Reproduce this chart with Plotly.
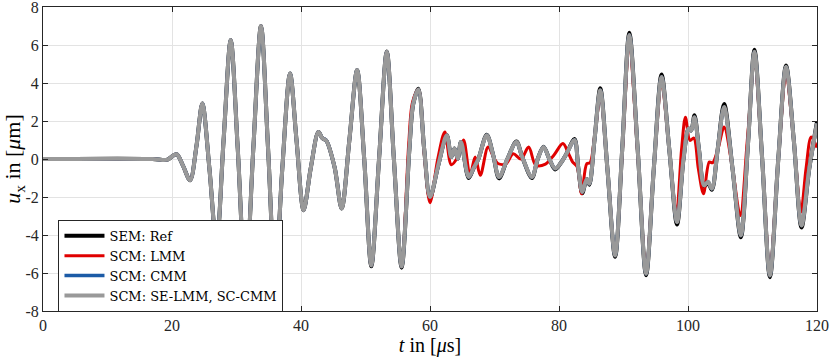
import plotly.graph_objects as go

# time axis in microseconds, displacement in micrometres
t_ref = [0, 17, 18.5, 19.3, 20.7, 21.7, 22.8, 23.8, 24.7, 25.8, 26.9, 28.0, 29.1, 30.2,
         31.4, 32.6, 33.8, 34.9, 36.0, 37.1, 38.3, 39.3, 40.4, 41.5, 42.7, 43.3, 43.9,
         45.2, 46.3, 47.5, 48.7, 49.8, 50.9, 52.1, 53.3, 54.4, 55.6, 56.8, 57.4, 58.2,
         59.1, 60.0, 61.3, 62.6, 63.3, 63.8, 64.3, 64.8, 66.0, 66.8, 67.5, 68.8, 69.8,
         70.7, 72.0, 73.4, 74.3, 75.8, 76.7, 77.6, 78.5, 79.4, 80.3, 81.2, 82.4, 83.0,
         83.6, 84.3, 84.7, 85.5, 86.4, 87.5, 88.7, 89.8, 90.9, 92.2, 93.5, 94.7, 95.9,
         97.1, 98.3, 99.3, 100.1, 100.5, 101.0, 101.7, 102.5, 103.1, 103.7, 104.6, 105.6,
         106.9, 108.2, 109.3, 110.3, 111.5, 112.7, 114.0, 115.2, 116.4, 117.6, 118.8, 120]

u_ref = [0, 0, -0.05, -0.03, 0.25, -0.35, -1.12, 0.7, 2.92, -0.5, -4.5, 1.0, 6.26, 0.5,
         -6.5, 0.5, 7.0, 0.5, -6.3, -0.5, 4.5, 1.0, -2.7, -0.5, 1.42, 1.1, 0.98,
         -0.42, -2.6, 1.0, 4.68, 0.0, -5.65, 0.0, 5.66, 0.0, -5.72, 0.5, 2.9, 3.7,
         0.5, -2.05, -0.3, 1.25, 0.1, 0.55, 0.02, 0.9, -1.0, -0.45, 0.0, 1.28, 0.2,
         -1.02, 0.0, 0.92, 0.1, -1.0, 0.0, 0.65, 0.0, -0.55, -0.2, 0.3, 1.05, -0.5,
         -1.8, -1.05, -1.35, 1.0, 3.72, -0.5, -5.15, 0.5, 6.65, 0.5, -6.12, -0.5, 4.45,
         0.5, -3.45, 0.0, 1.6, 1.5, 2.3, 0.5, -1.45, -1.25, -1.62, 0.5, 2.9,
         -0.5, -4.12, 0.8, 5.75, 0.0, -6.22, 0.0, 4.92, 1.0, -3.6, -0.5, 1.95]

u_se = [0, 0, -0.05, -0.03, 0.25, -0.35, -1.12, 0.7, 2.92, -0.5, -4.5, 1.0, 6.26, 0.5,
        -6.5, 0.5, 7.0, 0.5, -6.3, -0.5, 4.5, 1.0, -2.7, -0.5, 1.42, 1.1, 0.98,
        -0.42, -2.6, 1.0, 4.68, 0.0, -5.6, 0.0, 5.64, 0.0, -5.66, 0.5, 2.9, 3.66,
        0.5, -2.0, -0.3, 1.25, 0.1, 0.55, 0.02, 0.9, -0.95, -0.45, 0.0, 1.25, 0.2,
        -0.95, 0.0, 0.9, 0.1, -0.95, 0.0, 0.63, 0.0, -0.5, -0.2, 0.3, 1.0, -0.5,
        -1.74, -1.05, -1.3, 1.0, 3.62, -0.5, -5.08, 0.5, 6.52, 0.5, -6.04, -0.5, 4.32,
        0.5, -3.32, 0.0, 1.6, 1.5, 2.2, 0.5, -1.39, -1.2, -1.56, 0.5, 2.74,
        -0.5, -4.02, 0.8, 5.64, 0.0, -6.13, 0.0, 4.85, 1.0, -3.5, -0.5, 1.87]

t_lmm = [0, 17, 18.5, 19.3, 20.7, 21.7, 22.8, 23.8, 24.7, 25.8, 26.9, 28.0, 29.1, 30.2,
         31.4, 32.6, 33.8, 34.9, 36.0, 37.1, 38.3, 39.3, 40.4, 41.5, 42.7, 43.3, 43.9,
         45.2, 46.3, 47.5, 48.7, 49.8, 50.9, 52.1, 53.3, 54.4, 55.6, 56.7, 57.3, 58.2,
         59.1, 60.0, 61.2, 62.3, 63.3, 64.3, 65.2, 66.2, 67.0, 67.8, 69.0, 70.0, 70.6,
         71.8, 72.9, 74.1, 75.3, 76.4, 77.9, 79.2, 80.6, 81.4, 82.1, 82.8, 83.5, 84.3,
         84.8, 85.6, 86.4, 87.5, 88.7, 89.8, 90.9, 92.2, 93.5, 94.7, 95.9, 97.1, 98.2,
         99.0, 99.6, 100.3, 100.9, 101.6, 102.4, 103.3, 103.8, 104.7, 105.6, 106.9, 108.1,
         109.2, 110.3, 111.5, 112.7, 114.0, 115.2, 116.4, 117.5, 118.3, 119.1, 120]

u_lmm = [0, 0, -0.05, -0.03, 0.25, -0.35, -1.12, 0.7, 2.92, -0.5, -4.5, 1.0, 6.26, 0.5,
         -6.5, 0.5, 7.0, 0.5, -6.3, -0.5, 4.5, 1.0, -2.7, -0.5, 1.42, 1.1, 0.98,
         -0.42, -2.6, 1.0, 4.68, 0.0, -5.6, 0.0, 5.64, 0.0, -5.66, 0.8, 3.0, 3.66,
         0.3, -2.3, 0.0, 1.42, -0.3, 0.1, 1.0, -0.86, 0.1, -0.86, 0.63, 0.0, -0.25,
         -0.25, 0.28, 0.0, 0.63, -0.33, -0.27, 0.2, 0.81, 0.35, -0.15, -0.4, -1.83, -0.25,
         -0.2, 1.4, 3.3, -0.5, -4.99, 0.3, 5.85, 0.3, -5.69, -0.5, 3.85, 0.5, -2.88,
         0.5, 2.2, 0.98, 1.1, -0.5, -1.83, -0.16, -0.2, 0.6, 1.69, -0.5, -2.97,
         1.0, 5.03, 0.0, -5.69, 0.0, 4.32, 1.0, -2.8, -0.5, 1.16, 0.6]

x_ticks = [0, 20, 40, 60, 80, 100, 120]
y_ticks = [-8, -6, -4, -2, 0, 2, 4, 6, 8]
y_ticklabels = ["-8", "-6", "-4", "-2", "0", "2", "4", "6", "8"]

serif = "Liberation Serif, DejaVu Serif, serif"
ax_col = "#262626"
spl = dict(shape="spline", smoothing=0.9)

fig = go.Figure()
fig.add_trace(go.Scatter(x=t_ref, y=u_ref, mode="lines", name="SEM: Ref",
                         line=dict(color="black", width=4, **spl)))
fig.add_trace(go.Scatter(x=t_lmm, y=u_lmm, mode="lines", name="SCM: LMM",
                         line=dict(color="#e00000", width=3, **spl)))
fig.add_trace(go.Scatter(x=t_ref, y=u_se, mode="lines", name="SCM: CMM",
                         line=dict(color="#1c5ba6", width=3.5, **spl)))
fig.add_trace(go.Scatter(x=t_ref, y=u_se, mode="lines", name="SCM: SE-LMM, SC-CMM",
                         line=dict(color="#999999", width=4, **spl)))

fig.update_xaxes(range=[0, 120], tickvals=x_ticks, showgrid=True, gridcolor="#e3e3e3",
                 zeroline=False, showline=True, linecolor=ax_col, mirror="ticks",
                 ticks="inside", ticklen=5, tickcolor=ax_col, automargin=False,
                 ticklabeloverflow="allow",
                 tickfont=dict(family=serif, size=16, color=ax_col),
                 title=dict(text="<i>t</i> in [<i>μ</i>s]", standoff=1,
                            font=dict(family=serif, size=20, color="black")))
fig.update_yaxes(range=[-8, 8], tickvals=y_ticks, ticktext=y_ticklabels, showgrid=True,
                 gridcolor="#e3e3e3", zeroline=False, showline=True, linecolor=ax_col,
                 mirror="ticks", ticks="inside", ticklen=5, tickcolor=ax_col,
                 automargin=False, ticklabeloverflow="allow",
                 tickfont=dict(family=serif, size=16, color=ax_col),
                 title=dict(text="<i>u</i><sub>x</sub> in [<i>μ</i>m]", standoff=1,
                            font=dict(family=serif, size=22, color="black")))

fig.update_layout(
    width=830, height=357,
    margin=dict(l=43, r=13, t=7, b=46),
    plot_bgcolor="white", paper_bgcolor="white",
    legend=dict(x=0.02, y=0.30, xanchor="left", yanchor="top",
                bgcolor="white", bordercolor=ax_col, borderwidth=1,
                font=dict(family="DejaVu Serif, serif", size=13, color="black"),
                tracegroupgap=0, itemwidth=40),
)

# page body has a default margin; drop it so the figure sits at the window corner
fig.write_html("out.html", config={"displayModeBar": False},
               post_script="document.body.style.margin='0';")
